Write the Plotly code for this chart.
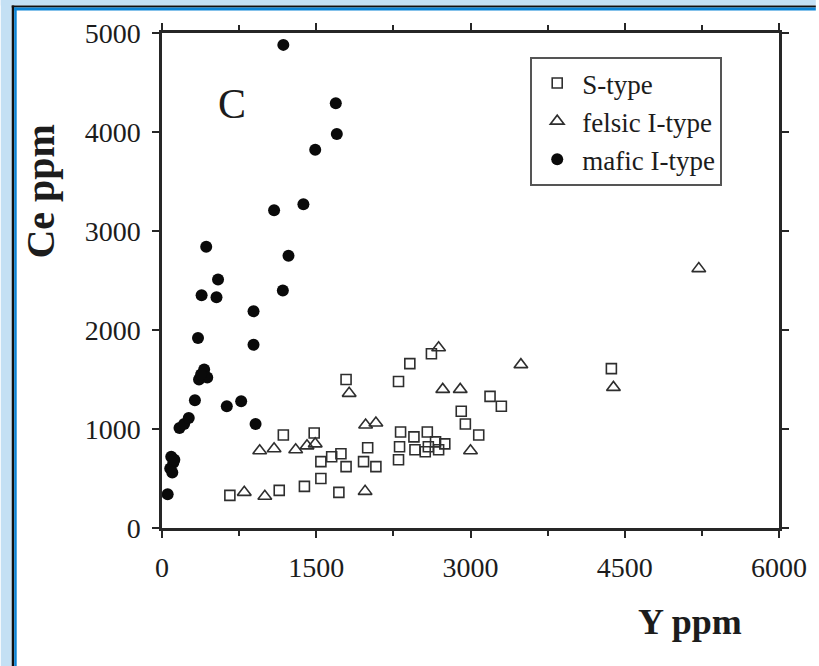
import plotly.graph_objects as go

# Y (ppm) and Ce (ppm) for each granite group
s_type_y = [660, 1140, 1180, 1480, 1385, 1545, 1545, 1650, 1740, 1790, 1720, 1790,
            1960, 2000, 2080, 2300, 2410, 2620, 2320, 2310, 2300, 2450, 2460, 2580,
            2590, 2660, 2750, 2560, 2690, 2910, 2950, 3080, 3190, 3300, 4370]
s_type_ce = [330, 380, 940, 960, 420, 500, 670, 720, 750, 620, 360, 1500,
             670, 810, 620, 1480, 1660, 1760, 970, 820, 690, 920, 790, 970,
             820, 870, 850, 770, 790, 1180, 1050, 940, 1330, 1230, 1610]

felsic_y = [800, 1000, 950, 1090, 1300, 1410, 1490, 1820, 1980, 2080, 1975,
            2690, 2730, 2900, 3000, 3490, 4390, 5220]
felsic_ce = [360, 320, 780, 800, 790, 830, 850, 1360, 1040, 1060, 370,
             1820, 1400, 1400, 780, 1650, 1420, 2620]

mafic_y = [1180, 1690, 1700, 1490, 1375, 1090, 430, 1230, 545, 385, 530, 1175,
           890, 350, 890, 360, 410, 440, 380, 320, 630, 770, 170, 215, 260,
           910, 90, 110, 80, 100, 120, 55]
mafic_ce = [4880, 4290, 3980, 3820, 3270, 3210, 2840, 2750, 2510, 2350, 2330, 2400,
            2190, 1920, 1850, 1500, 1600, 1520, 1550, 1290, 1230, 1280, 1010, 1050, 1110,
            1050, 720, 660, 600, 560, 690, 340]

x_ticks = [0, 1500, 3000, 4500, 6000]
y_ticks = [0, 1000, 2000, 3000, 4000, 5000]

SERIF = "Liberation Serif, Times New Roman, serif"
INK = "#1c1c1c"

# plot area in page pixels
L, R, T, B = 162, 782, 33, 528
W, H = 819, 666


def px(p):
    return (p - L) / (R - L)


def py(p):
    return (B - p) / (B - T)


fig = go.Figure()

fig.add_trace(go.Scatter(
    x=s_type_y, y=s_type_ce, mode="markers", name="S-type",
    marker=dict(symbol="square-open", size=10, color="#2e2e2e", line=dict(width=1.6)),
))
fig.add_trace(go.Scatter(
    x=felsic_y, y=felsic_ce, mode="markers", name="felsic I-type",
    marker=dict(symbol="triangle-up-open", size=12, color="#2e2e2e", line=dict(width=1.6)),
))
fig.add_trace(go.Scatter(
    x=mafic_y, y=mafic_ce, mode="markers", name="mafic I-type",
    marker=dict(symbol="circle", size=12, color="#0a0a0a", line=dict(width=0)),
))

axis_common = dict(
    showline=True, linecolor="#262626", linewidth=2.5, mirror="ticks",
    ticks="outside", ticklen=7, tickwidth=2, tickcolor="#262626",
    showgrid=False, zeroline=False,
    tickfont=dict(family=SERIF, size=28, color=INK),
)

fig.update_xaxes(range=[0, 6000], tickvals=x_ticks, ticktext=[str(v) for v in x_ticks],
                 minor=dict(tickvals=[750, 2250, 3750, 5250], ticks="outside",
                            ticklen=5, tickwidth=1.5, tickcolor="#262626"),
                 ticklabelstandoff=6, **axis_common)
fig.update_yaxes(range=[0, 5000], tickvals=y_ticks, ticktext=[str(v) for v in y_ticks],
                 ticklabelstandoff=6, **axis_common)

# page frame: light blue surround with a dark and a blue rule
frame = [
    (0, 0, 11, H, "#c4e0f4"),
    (0, 0, W, 5.5, "#c4e0f4"),
    (11, 5.5, 13.5, H, "#111111"),
    (11, 5.5, W, 7.5, "#111111"),
    (13.5, 7.5, 16, H, "#0b84d6"),
    (13.5, 7.5, W, 10.5, "#0b84d6"),
]
shapes = []
for x0, y0, x1, y1, col in frame:
    shapes.append(dict(type="rect", xref="paper", yref="paper",
                       x0=px(x0), x1=px(x1), y0=py(y1), y1=py(y0),
                       fillcolor=col, line=dict(width=0), layer="below"))

annotations = [
    dict(text="C", x=677, y=4282, xref="x", yref="y", showarrow=False,
         xanchor="center", yanchor="middle",
         font=dict(family=SERIF, size=42, color=INK)),
    dict(text="<b>Y ppm</b>", x=px(693), y=py(622), xref="paper", yref="paper",
         showarrow=False, xanchor="center", yanchor="middle",
         font=dict(family=SERIF, size=36, color=INK)),
    dict(text="<b>Ce ppm</b>", x=px(40), y=py(192), xref="paper", yref="paper",
         showarrow=False, textangle=-90, xanchor="center", yanchor="middle",
         font=dict(family=SERIF, size=40, color=INK)),
]

fig.update_layout(
    width=W, height=H, autosize=False,
    margin=dict(l=L, r=W - R, t=T, b=H - B),
    paper_bgcolor="white", plot_bgcolor="white",
    shapes=shapes, annotations=annotations,
    showlegend=True,
    legend=dict(x=px(532), y=py(57), xanchor="left", yanchor="top",
                bgcolor="white", bordercolor="#555555", borderwidth=2,
                font=dict(family=SERIF, size=27, color=INK),
                itemwidth=40),
)

fig.write_html("out.html")
